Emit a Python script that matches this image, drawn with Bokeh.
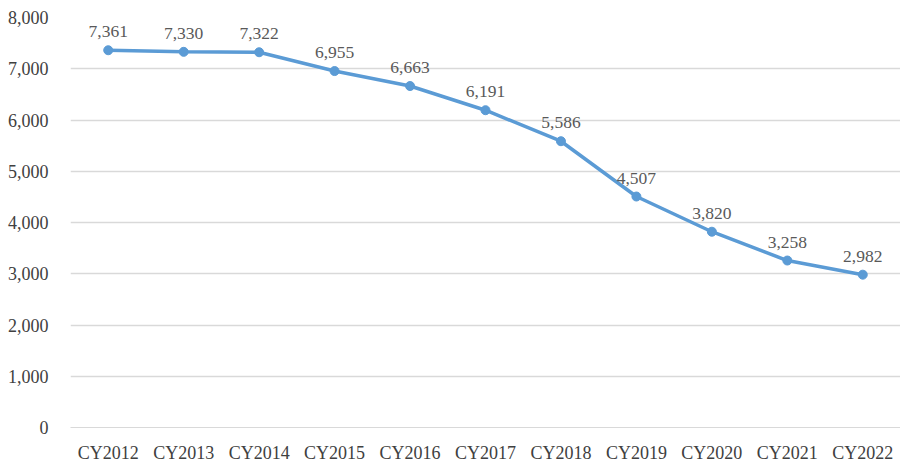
from bokeh.plotting import figure
from bokeh.models import ColumnDataSource, FactorRange, Range1d, NumeralTickFormatter, FixedTicker, LabelSet
from bokeh.embed import file_html
from bokeh.resources import INLINE

years = ["CY2012", "CY2013", "CY2014", "CY2015", "CY2016", "CY2017",
         "CY2018", "CY2019", "CY2020", "CY2021", "CY2022"]
values = [7361, 7330, 7322, 6955, 6663, 6191, 5586, 4507, 3820, 3258, 2982]
y_ticks = [0, 1000, 2000, 3000, 4000, 5000, 6000, 7000, 8000]

labels = [f"{v:,}" for v in values]
src = ColumnDataSource(dict(x=years, y=values, lab=labels))

FONT = "Liberation Serif"
p = figure(x_range=FactorRange(*years, range_padding=0), y_range=Range1d(0, 8000),
           frame_width=830, frame_height=410, min_border_left=70, min_border_right=0,
           min_border_top=17, min_border_bottom=10,
           output_backend="svg", toolbar_location=None)
p.outline_line_color = None

p.line("x", "y", source=src, line_color="#5B9BD5", line_width=3.5)
p.scatter("x", "y", source=src, size=9, fill_color="#5B9BD5", line_color="#5B9BD5")

lbl = LabelSet(x="x", y="y", text="lab", source=src, y_offset=13, text_align="center",
               text_baseline="bottom", text_font=FONT, text_font_size="17.5px", text_color="#595959")
p.add_layout(lbl)

p.yaxis.ticker = FixedTicker(ticks=y_ticks)
p.yaxis.formatter = NumeralTickFormatter(format="0,0")
p.yaxis.axis_line_color = None
p.yaxis.major_tick_line_color = None
p.yaxis.minor_tick_line_color = None
p.yaxis.major_label_standoff = 16
p.yaxis.major_label_text_font = FONT
p.yaxis.major_label_text_font_size = "18px"
p.yaxis.major_label_text_color = "#404040"

p.xaxis.axis_line_color = "#d9d9d9"
p.xaxis.major_tick_line_color = None
p.xaxis.minor_tick_line_color = None
p.xaxis.major_label_standoff = 9
p.xaxis.major_label_text_font = FONT
p.xaxis.major_label_text_font_size = "18px"
p.xaxis.major_label_text_color = "#404040"

p.xgrid.grid_line_color = None
p.ygrid.grid_line_color = "#d9d9d9"
p.ygrid.grid_line_width = 1.5

open("out.html", "w").write(file_html(p, INLINE))
